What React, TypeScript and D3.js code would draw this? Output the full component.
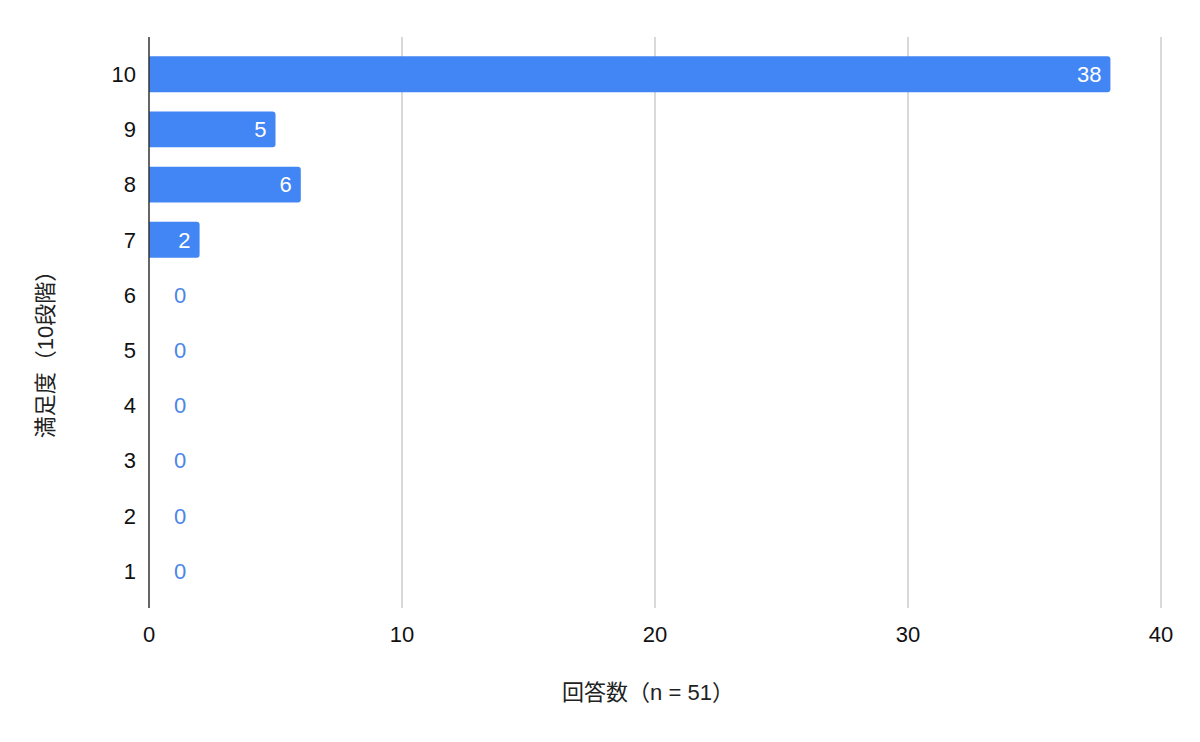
import { useMemo } from "react";
import * as d3 from "d3";

const categories = ["10", "9", "8", "7", "6", "5", "4", "3", "2", "1"];
const counts = [38, 5, 6, 2, 0, 0, 0, 0, 0, 0];
const xTicks = [0, 10, 20, 30, 40];
const xTitle = "回答数（n = 51）";
const yTitle = "満足度（10段階）";

const BLUE = "#4285f4";
const FONT = "'Liberation Sans', Arial, 'Noto Sans CJK JP', sans-serif";

export default function App() {
  const width = 1200;
  const height = 742;
  const margin = { top: 37, right: 39, bottom: 134, left: 149 };

  const x = useMemo(
    () => d3.scaleLinear().domain([0, 40]).range([margin.left, width - margin.right]),
    []
  );
  const y = useMemo(
    () =>
      d3
        .scaleBand<string>()
        .domain(categories)
        .range([margin.top, height - margin.bottom])
        .padding(0.35),
    []
  );

  const bw = y.bandwidth();

  // bar with rounded right end only
  const barPath = (v: number, top: number) => {
    const x0 = x(0);
    const x1 = x(v);
    const r = Math.min(3, (x1 - x0) / 2);
    return `M${x0},${top}H${x1 - r}Q${x1},${top} ${x1},${top + r}V${top + bw - r}Q${x1},${top + bw} ${x1 - r},${top + bw}H${x0}Z`;
  };

  return (
    <svg
      width={width}
      height={height}
      style={{ position: "absolute", left: 0, top: 0, background: "#fff" }}
      fontFamily={FONT}
    >
      {/* gridlines */}
      {xTicks.slice(1).map((t) => (
        <line
          key={t}
          x1={x(t)}
          x2={x(t)}
          y1={margin.top}
          y2={height - margin.bottom}
          stroke="#cccccc"
          strokeWidth={1.5}
        />
      ))}

      {/* bars */}
      {categories.map((c, i) => {
        const v = counts[i];
        const top = y(c) ?? 0;
        const cy = top + bw / 2;
        const inside = v > 0;
        return (
          <g key={c}>
            {v > 0 && <path d={barPath(v, top)} fill={BLUE} />}
            <text
              x={inside ? x(v) - 9 : x(0) + 31}
              y={cy}
              dy="0.36em"
              textAnchor={inside ? "end" : "middle"}
              fontSize={22}
              fill={inside ? "#ffffff" : "#4a86e8"}
            >
              {v}
            </text>
          </g>
        );
      })}

      {/* axis line */}
      <line
        x1={x(0)}
        x2={x(0)}
        y1={margin.top}
        y2={height - margin.bottom}
        stroke="#333"
        strokeWidth={1.5}
      />

      {/* y tick labels */}
      {categories.map((c) => (
        <text
          key={c}
          x={margin.left - 13}
          y={(y(c) ?? 0) + bw / 2}
          dy="0.36em"
          textAnchor="end"
          fontSize={22}
          fill="#111"
        >
          {c}
        </text>
      ))}

      {/* x tick labels */}
      {xTicks.map((t) => (
        <text
          key={t}
          x={x(t)}
          y={634}
          dy="0.36em"
          textAnchor="middle"
          fontSize={22}
          fill="#111"
        >
          {t}
        </text>
      ))}

      {/* axis titles */}
      <text
        x={648}
        y={692}
        dy="0.36em"
        textAnchor="middle"
        fontSize={22}
        fill="#222"
      >
        {xTitle}
      </text>
      <text
        transform={`translate(45,349) rotate(-90)`}
        dy="0.36em"
        textAnchor="middle"
        fontSize={22}
        fill="#222"
      >
        {yTitle}
      </text>
    </svg>
  );
}
